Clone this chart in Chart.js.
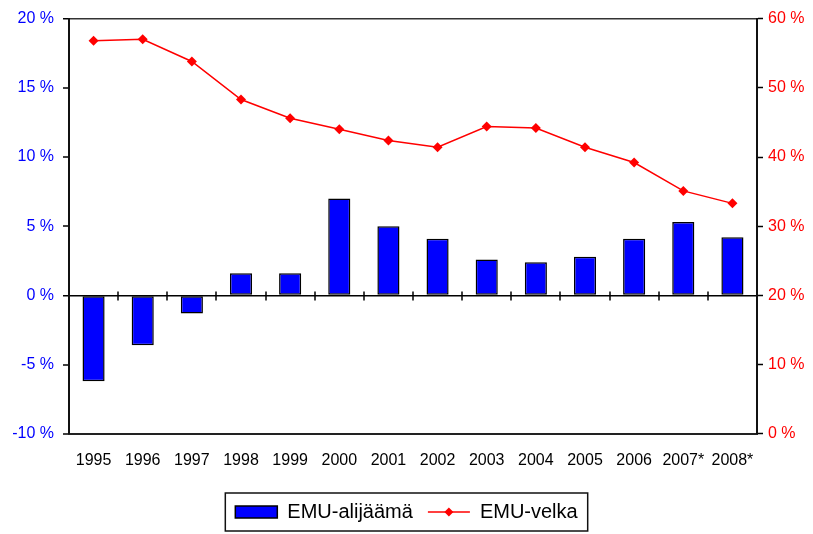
<!DOCTYPE html>
<html>
<head>
<meta charset="utf-8">
<script src="https://cdn.jsdelivr.net/npm/chart.js@4.4.0/dist/chart.umd.min.js"></script>
<style>
    html, body { margin: 0; padding: 0; background: #fff; }
    #wrap { width: 813px; height: 534px; }
</style>
</head>
<body>
<div id="wrap"><canvas id="myChart"></canvas></div>
<script>
const years = ["1995", "1996", "1997", "1998", "1999", "2000", "2001", "2002", "2003", "2004", "2005", "2006", "2007*", "2008*"];
const deficit = [-6.2, -3.6, -1.3, 1.6, 1.6, 7.0, 5.0, 4.1, 2.6, 2.4, 2.8, 4.1, 5.3, 4.2];
const debt = [56.8, 57.0, 53.8, 48.3, 45.6, 44.0, 42.4, 41.4, 44.4, 44.2, 41.4, 39.2, 35.1, 33.3];

const FONT = "'Liberation Sans', Arial, sans-serif";

// zero line ticks between categories + legend frame + diamond in legend
const extras = {
    id: 'extras',
    afterDraw(chart) {
        const ctx = chart.ctx;
        const x = chart.scales.x;
        const y = chart.scales.y;
        const y0 = y.getPixelForValue(0);

        ctx.save();
        ctx.strokeStyle = '#000';
        ctx.lineWidth = 1.5;
        for (let i = 1; i < years.length; i++) {
            const px = Math.round((x.getPixelForValue(i - 1) + x.getPixelForValue(i)) / 2);
            ctx.beginPath();
            ctx.moveTo(px, y0 - 4);
            ctx.lineTo(px, y0 + 5);
            ctx.stroke();
        }

        const hb = chart.legend.legendHitBoxes;
        if (hb && hb.length === 2) {
            const left = hb[0].left - 10;
            const right = hb[1].left + hb[1].width + 10;
            const top = hb[0].top - 9;
            const bottom = hb[0].top + hb[0].height + 9;
            ctx.lineWidth = 1.5;
            ctx.strokeStyle = '#111';
            ctx.strokeRect(left, top, right - left, bottom - top);

            // diamond marker on the line legend item
            const cx = hb[1].left + 21;
            const cy = hb[1].top + hb[1].height / 2;
            ctx.fillStyle = '#ff0000';
            ctx.beginPath();
            ctx.moveTo(cx, cy - 4.5);
            ctx.lineTo(cx + 4.5, cy);
            ctx.lineTo(cx, cy + 4.5);
            ctx.lineTo(cx - 4.5, cy);
            ctx.closePath();
            ctx.fill();
        }
        ctx.restore();
    }
};

new Chart("myChart", {
    type: "bar",
    data: {
        labels: years,
        datasets: [{
            type: "bar",
            label: "EMU-alijäämä",
            data: deficit,
            yAxisID: "y",
            backgroundColor: "#0000ff",
            borderColor: "#000",
            borderWidth: 1.5,
            borderSkipped: false,
            barPercentage: 0.9,
            categoryPercentage: 0.5,
            order: 2
        }, {
            type: "line",
            label: "EMU-velka",
            data: debt,
            yAxisID: "y2",
            borderColor: "#ff0000",
            backgroundColor: "#ff0000",
            borderWidth: 1.5,
            lineTension: 0,
            pointStyle: "rectRot",
            pointRadius: 5,
            pointBorderWidth: 0,
            pointBackgroundColor: "#ff0000",
            order: 1
        }]
    },
    options: {
        responsive: true,
        maintainAspectRatio: false,
        animation: false,
        layout: {
            padding: {top: 10, left: 0, right: 0, bottom: 2}
        },
        scales: {
            x: {
                offset: true,
                grid: {display: true, drawOnChartArea: false, drawTicks: false},
                border: {display: true, color: "#222", width: 2},
                ticks: {
                    color: "#000",
                    padding: 17,
                    maxRotation: 0,
                    autoSkip: false,
                    font: {family: FONT, size: 16}
                }
            },
            y: {
                position: "left",
                min: -10,
                max: 20,
                afterFit: function (scale) {
                    scale.width = 69;
                },
                grid: {
                    drawTicks: true,
                    tickLength: 6,
                    tickColor: "#000",
                    tickWidth: 1.5,
                    lineWidth: function (c) {
                        return c.tick && (c.tick.value === 0 || c.tick.value === 20) ? 1.5 : 0;
                    },
                    color: function (c) {
                        if (!c.tick) return "rgba(0,0,0,0)";
                        if (c.tick.value === 0) return "#000";
                        if (c.tick.value === 20) return "#333";
                        return "rgba(0,0,0,0)";
                    }
                },
                border: {display: true, color: "#111", width: 2},
                ticks: {
                    stepSize: 5,
                    color: "#0000ff",
                    padding: 9,
                    font: {family: FONT, size: 16},
                    callback: function (value) {
                        return value + " %";
                    }
                }
            },
            y2: {
                position: "right",
                min: 0,
                max: 60,
                afterFit: function (scale) {
                    scale.width = 56;
                },
                grid: {
                    drawOnChartArea: false,
                    drawTicks: true,
                    tickLength: 6,
                    color: "#000",
                    tickColor: "#000",
                    tickWidth: 1.5
                },
                border: {display: true, color: "#111", width: 2},
                ticks: {
                    stepSize: 10,
                    color: "#ff0000",
                    padding: 5,
                    font: {family: FONT, size: 16},
                    callback: function (value) {
                        return value + " %";
                    }
                }
            }
        },
        plugins: {
            tooltip: {enabled: false},
            legend: {
                position: "bottom",
                labels: {
                    color: "#000",
                    font: {family: FONT, size: 20},
                    boxWidth: 42,
                    boxHeight: 12,
                    padding: 15,
                    usePointStyle: true,
                    pointStyleWidth: 42,
                    generateLabels: function (chart) {
                        return [{
                            text: "EMU-alijäämä",
                            fillStyle: "#0000ff",
                            strokeStyle: "#000",
                            lineWidth: 1.5,
                            pointStyle: "rect",
                            datasetIndex: 0,
                            fontColor: "#000"
                        }, {
                            text: "EMU-velka",
                            fillStyle: "#ff0000",
                            strokeStyle: "#ff0000",
                            lineWidth: 1.5,
                            pointStyle: "line",
                            datasetIndex: 1,
                            fontColor: "#000"
                        }];
                    }
                }
            }
        }
    },
    plugins: [extras]
});
</script>
</body>
</html>
